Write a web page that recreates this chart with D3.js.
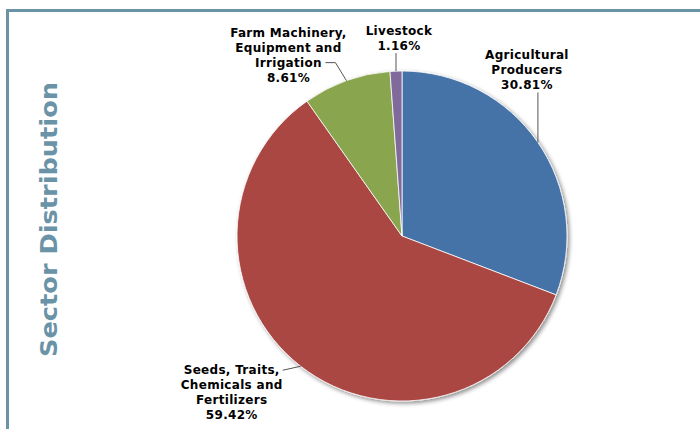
<!DOCTYPE html>
<html>
<head>
<meta charset="utf-8">
<script src="https://cdn.jsdelivr.net/npm/d3@7"></script>
<style>
  html, body { margin: 0; padding: 0; background: #fff; }
  svg { display: block; }
</style>
</head>
<body>
<script>
// ---- data ----
const categories = ["Agricultural Producers", "Seeds, Traits, Chemicals and Fertilizers", "Farm Machinery, Equipment and Irrigation", "Livestock"];
const values = [30.81, 59.42, 8.61, 1.16];
const labelLines = [
  ["Agricultural", "Producers"],
  ["Seeds, Traits,", "Chemicals and", "Fertilizers"],
  ["Farm Machinery,", "Equipment and", "Irrigation"],
  ["Livestock"]
];
const colors = ["#4572A7", "#AA4643", "#89A54E", "#80699B"];
const title = "Sector Distribution";

// ---- layout ----
const W = 700, H = 429;
const cx = 402, cy = 236, R = 165;
const lineH = 15;

const labelLayout = [
  { path: [[0, -50]], tx: -11, ty: -50, attach: "bottom" },
  { path: [[-18, 4]], tx: -69, ty: 4, attach: "firstLine" },
  { path: [[-11, -18], [-21, -18]], tx: -58, ty: -18, attach: "line2" },
  { path: [[0, -18]], tx: 3, ty: -18, attach: "bottom" }
];

const svg = d3.select("body").append("svg").attr("width", W).attr("height", H);

const defs = svg.append("defs");
const f = defs.append("filter").attr("id", "shadow").attr("x", "-10%").attr("y", "-10%").attr("width", "120%").attr("height", "120%");
f.append("feDropShadow").attr("dx", 2).attr("dy", 2).attr("stdDeviation", 2).attr("flood-color", "#000").attr("flood-opacity", 0.45);

// frame
svg.append("rect").attr("x", 7.5).attr("y", 10.5).attr("width", W).attr("height", H)
  .attr("fill", "none").attr("stroke", "#6b93a8").attr("stroke-width", 3);

// title
svg.append("text")
  .attr("transform", `translate(57,219.5) rotate(-90)`)
  .attr("text-anchor", "middle")
  .attr("font-family", "'DejaVu Sans', sans-serif")
  .attr("font-weight", "bold")
  .attr("font-size", 23)
  .attr("fill", "#6b93a8")
  .attr("textLength", 275)
  .attr("lengthAdjust", "spacingAndGlyphs")
  .text(title);

const pie = d3.pie().sort(null).value(d => d)(values);
const arc = d3.arc().innerRadius(0).outerRadius(R);
const edgeArc = d3.arc().innerRadius(R).outerRadius(R);

const g = svg.append("g").attr("transform", `translate(${cx},${cy})`);

g.append("g").attr("filter", "url(#shadow)")
  .selectAll("path").data(pie).join("path")
  .attr("d", arc)
  .attr("fill", (d, i) => colors[i])
  .attr("stroke", "#ffffff")
  .attr("stroke-width", 0.8)
  .attr("stroke-linejoin", "round");

pie.forEach((d, i) => {
  const [ex, ey] = edgeArc.centroid(d);
  const L = labelLayout[i];
  const pts = [[ex, ey]].concat(L.path.map(p => [ex + p[0], ey + p[1]]));
  g.append("path")
    .attr("d", d3.line()(pts))
    .attr("fill", "none")
    .attr("stroke", "#555")
    .attr("stroke-width", 1);

  const lines = labelLines[i].concat([values[i].toFixed(2) + "%"]);
  const n = lines.length;
  let firstBaseline;
  const ax = ex + L.tx, ay = ey + L.ty;
  if (L.attach === "bottom") {
    firstBaseline = ay - 3 - (n - 1) * lineH;
  } else if (L.attach === "firstLine") {
    firstBaseline = ay + 4;
  } else {
    firstBaseline = ay + 4 - 2 * lineH;
  }
  const t = g.append("text")
    .attr("text-anchor", "middle")
    .attr("font-family", "'DejaVu Sans', Verdana, sans-serif")
    .attr("font-weight", "bold")
    .attr("font-size", 12)
    .attr("letter-spacing", 0.3)
    .attr("fill", "#000");
  lines.forEach((s, k) => {
    t.append("tspan").attr("x", ax).attr("y", firstBaseline + k * lineH).text(s);
  });
});
</script>
</body>
</html>
